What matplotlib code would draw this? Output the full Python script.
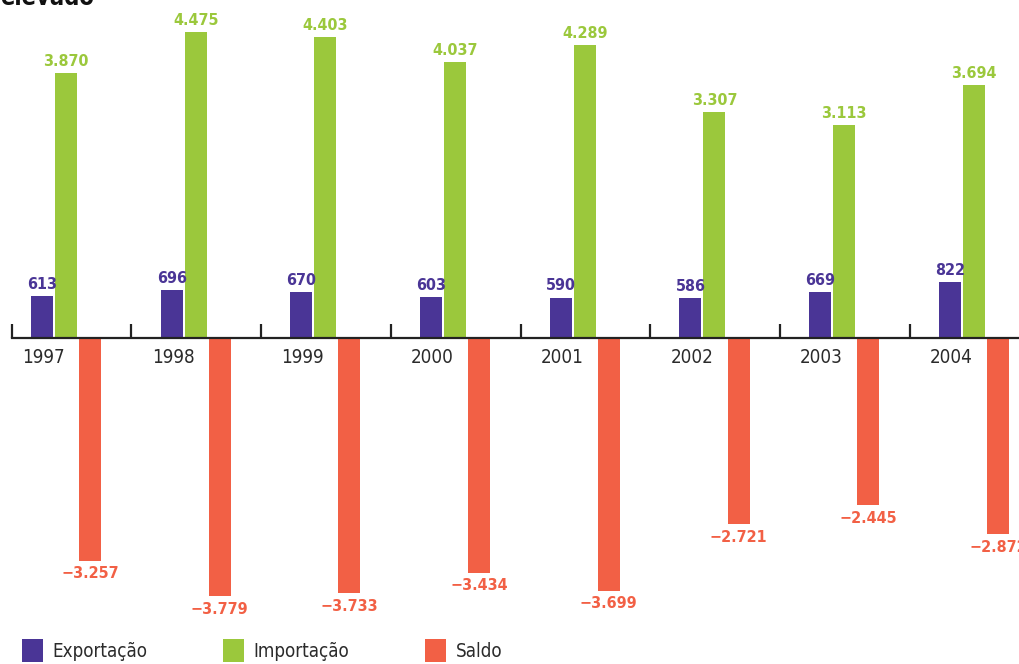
import matplotlib
matplotlib.use("Agg")
import matplotlib.pyplot as plt
from matplotlib.patches import Patch

# data
anos = ["1997", "1998", "1999", "2000", "2001", "2002", "2003", "2004"]
exportacao = [613, 696, 670, 603, 590, 586, 669, 822]
importacao = [3870, 4475, 4403, 4037, 4289, 3307, 3113, 3694]
saldo = [-3257, -3779, -3733, -3434, -3699, -2721, -2445, -2872]

series_names = ["Exportação", "Importação", "Saldo"]
cores = ["#4A3596", "#9BC83C", "#F26045"]

plt.rcParams['font.family'] = ['DejaVu Sans']
plt.rcParams['font.stretch'] = 'condensed'

def fmt(v):
    s = f"{abs(v):,}".replace(",", ".")
    return ("\u2212" + s) if v < 0 else s

fig = plt.figure(figsize=(10.19, 6.64), dpi=100)
W, H = 1019, 664
# axes covers full height; scale chosen so baseline sits at y=338px
px_per_unit = 306 / 4475
ax = fig.add_axes([12 / W, 0, 1 - 12 / W, 1])
ax.set_ylim(-(H - 338) / px_per_unit, 338 / px_per_unit)
grp = 129.7
ax.set_xlim(-30 / grp, (W - 42) / grp)

x = list(range(len(anos)))
bw = 22 / grp
step = 24 / grp
for k, vals in enumerate([exportacao, importacao, saldo]):
    pos = [i + k * step for i in x]
    bars = ax.bar(pos, vals, width=bw, color=cores[k], label=series_names[k], zorder=2)
    for b, v in zip(bars, vals):
        off = 3 if v > 0 else -4
        ax.annotate(fmt(v), (b.get_x() + b.get_width() / 2, v), xytext=(0, off),
                    textcoords="offset points", ha="center",
                    va="bottom" if v > 0 else "top", color=cores[k],
                    fontsize=11.5, fontweight="bold")

# year labels
for i, a in zip(x, anos):
    ax.annotate(a, (i + 0.01, 0), xytext=(0, -7), textcoords="offset points",
                ha="center", va="top", fontsize=13.5, color="#2b2b2b")

for s in ["top", "right", "left"]:
    ax.spines[s].set_visible(False)
ax.spines["bottom"].set_position(("data", 0))
ax.spines["bottom"].set_linewidth(1.6)
ax.spines["bottom"].set_color("#222222")
ax.spines["bottom"].set_zorder(3)
ax.set_yticks([])
ticks = [-30 / grp] + [i - 0.31 for i in x[1:]]
ax.set_xticks(ticks)
ax.set_xticklabels([])
ax.tick_params(axis="x", direction="in", length=10, width=1.6, color="#222222")

# cut-off heading at the top
fig.text(0.0, 1 - 5 / H, "elevado", fontsize=17, fontweight="bold",
         va="baseline", ha="left", color="#111111")

handles = [Patch(facecolor=c, label=n) for c, n in zip(cores, series_names)]
fig.legend(handles=handles, loc="lower left", bbox_to_anchor=(5 / W, -15 / H),
           ncol=3, frameon=False, fontsize=13.5, handlelength=1.15, handleheight=1.5,
           handletextpad=0.5, columnspacing=4.0, labelcolor="#2b2b2b")

fig.savefig("out.png", dpi=100)
